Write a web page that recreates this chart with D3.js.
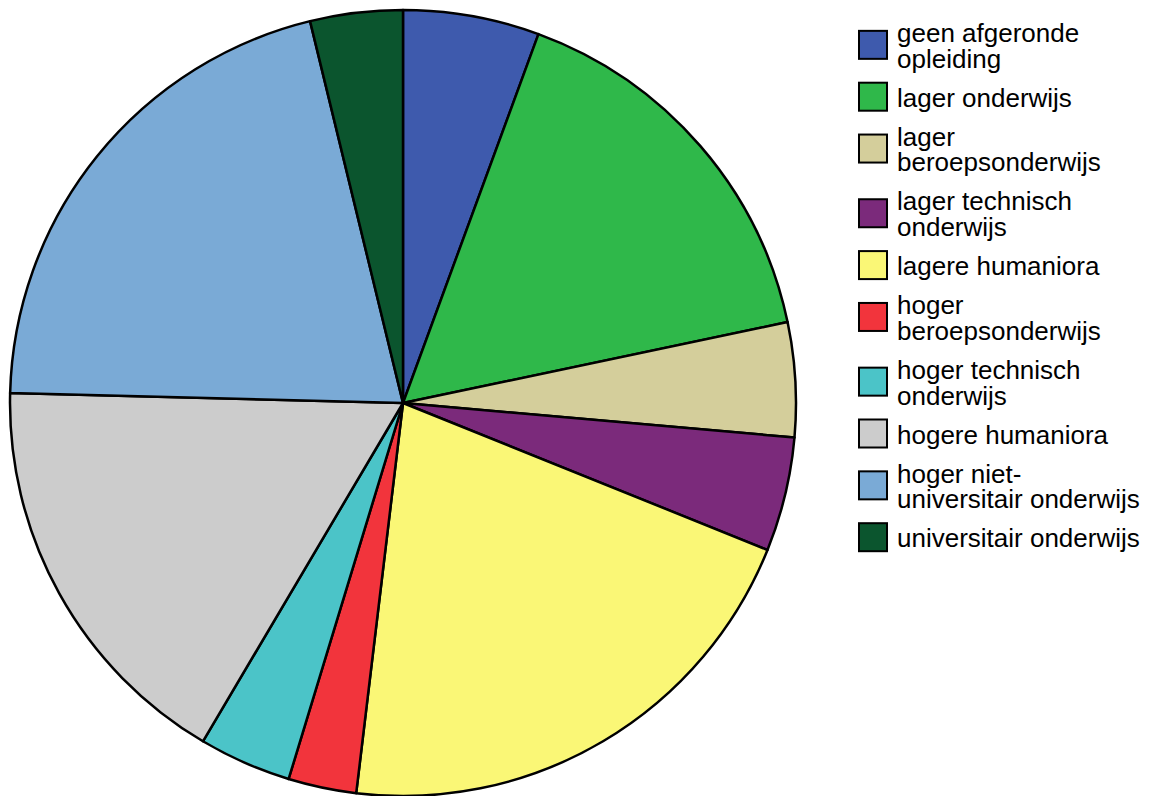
<!DOCTYPE html>
<html>
<head>
<meta charset="utf-8">
<script src="https://cdn.jsdelivr.net/npm/d3@7"></script>
<style>
  html, body { margin: 0; padding: 0; background: #fff; }
  svg { display: block; }
  text { font-family: "Liberation Sans", Arial, sans-serif; }
</style>
</head>
<body>
<svg id="chart" width="1157" height="796"></svg>
<script>
// Education level shares (percent), clockwise from 12 o'clock
const categories = [
  "geen afgeronde opleiding",
  "lager onderwijs",
  "lager beroepsonderwijs",
  "lager technisch onderwijs",
  "lagere humaniora",
  "hoger beroepsonderwijs",
  "hoger technisch onderwijs",
  "hogere humaniora",
  "hoger niet-universitair onderwijs",
  "universitair onderwijs"
];
const values = [5.6, 16.1, 4.7, 4.7, 20.8, 2.8, 3.8, 16.9, 20.8, 3.8];
// Legend text, broken into lines
const legendLines = [
  ["geen afgeronde", "opleiding"],
  ["lager onderwijs"],
  ["lager", "beroepsonderwijs"],
  ["lager technisch", "onderwijs"],
  ["lagere humaniora"],
  ["hoger", "beroepsonderwijs"],
  ["hoger technisch", "onderwijs"],
  ["hogere humaniora"],
  ["hoger niet-", "universitair onderwijs"],
  ["universitair onderwijs"]
];
const colors = [
  "#3e5aad", "#2fb84a", "#d4ce9b", "#7b2a7b", "#faf776",
  "#f2343c", "#4bc4c8", "#cccccc", "#7aaad6", "#0b552e"
];

const svg = d3.select("#chart");
const cx = 403, cy = 403, radius = 393;

const color = d3.scaleOrdinal().domain(categories).range(colors);
const pie = d3.pie().sort(null).value(d => d.value);
const arc = d3.arc().innerRadius(0).outerRadius(radius);

const data = categories.map((c, i) => ({ name: c, value: values[i] }));

const g = svg.append("g").attr("transform", `translate(${cx},${cy})`);
g.selectAll("path")
  .data(pie(data))
  .join("path")
  .attr("d", arc)
  .attr("fill", d => color(d.data.name))
  .attr("stroke", "#000")
  .attr("stroke-width", 2.5)
  .attr("stroke-linejoin", "round");

// Legend: swatch centred on each item's text block
const legend = svg.append("g");
const lineH = 25.7, fontSize = 26, textX = 897, swX = 859, swSize = 28;
let baseline = 42;
legendLines.forEach((lines, i) => {
  const item = legend.append("g");
  const lastBase = baseline + (lines.length - 1) * lineH;
  const swCenter = (baseline + lastBase) / 2 - 10;
  item.append("rect")
    .attr("x", swX).attr("y", swCenter - swSize / 2)
    .attr("width", swSize).attr("height", swSize)
    .attr("fill", color(categories[i]))
    .attr("stroke", "#000").attr("stroke-width", 2);
  lines.forEach((ln, k) => {
    item.append("text")
      .attr("x", textX).attr("y", baseline + k * lineH)
      .attr("font-size", fontSize).attr("fill", "#000")
      .text(ln);
  });
  baseline = lastBase + 39;
});
</script>
</body>
</html>
